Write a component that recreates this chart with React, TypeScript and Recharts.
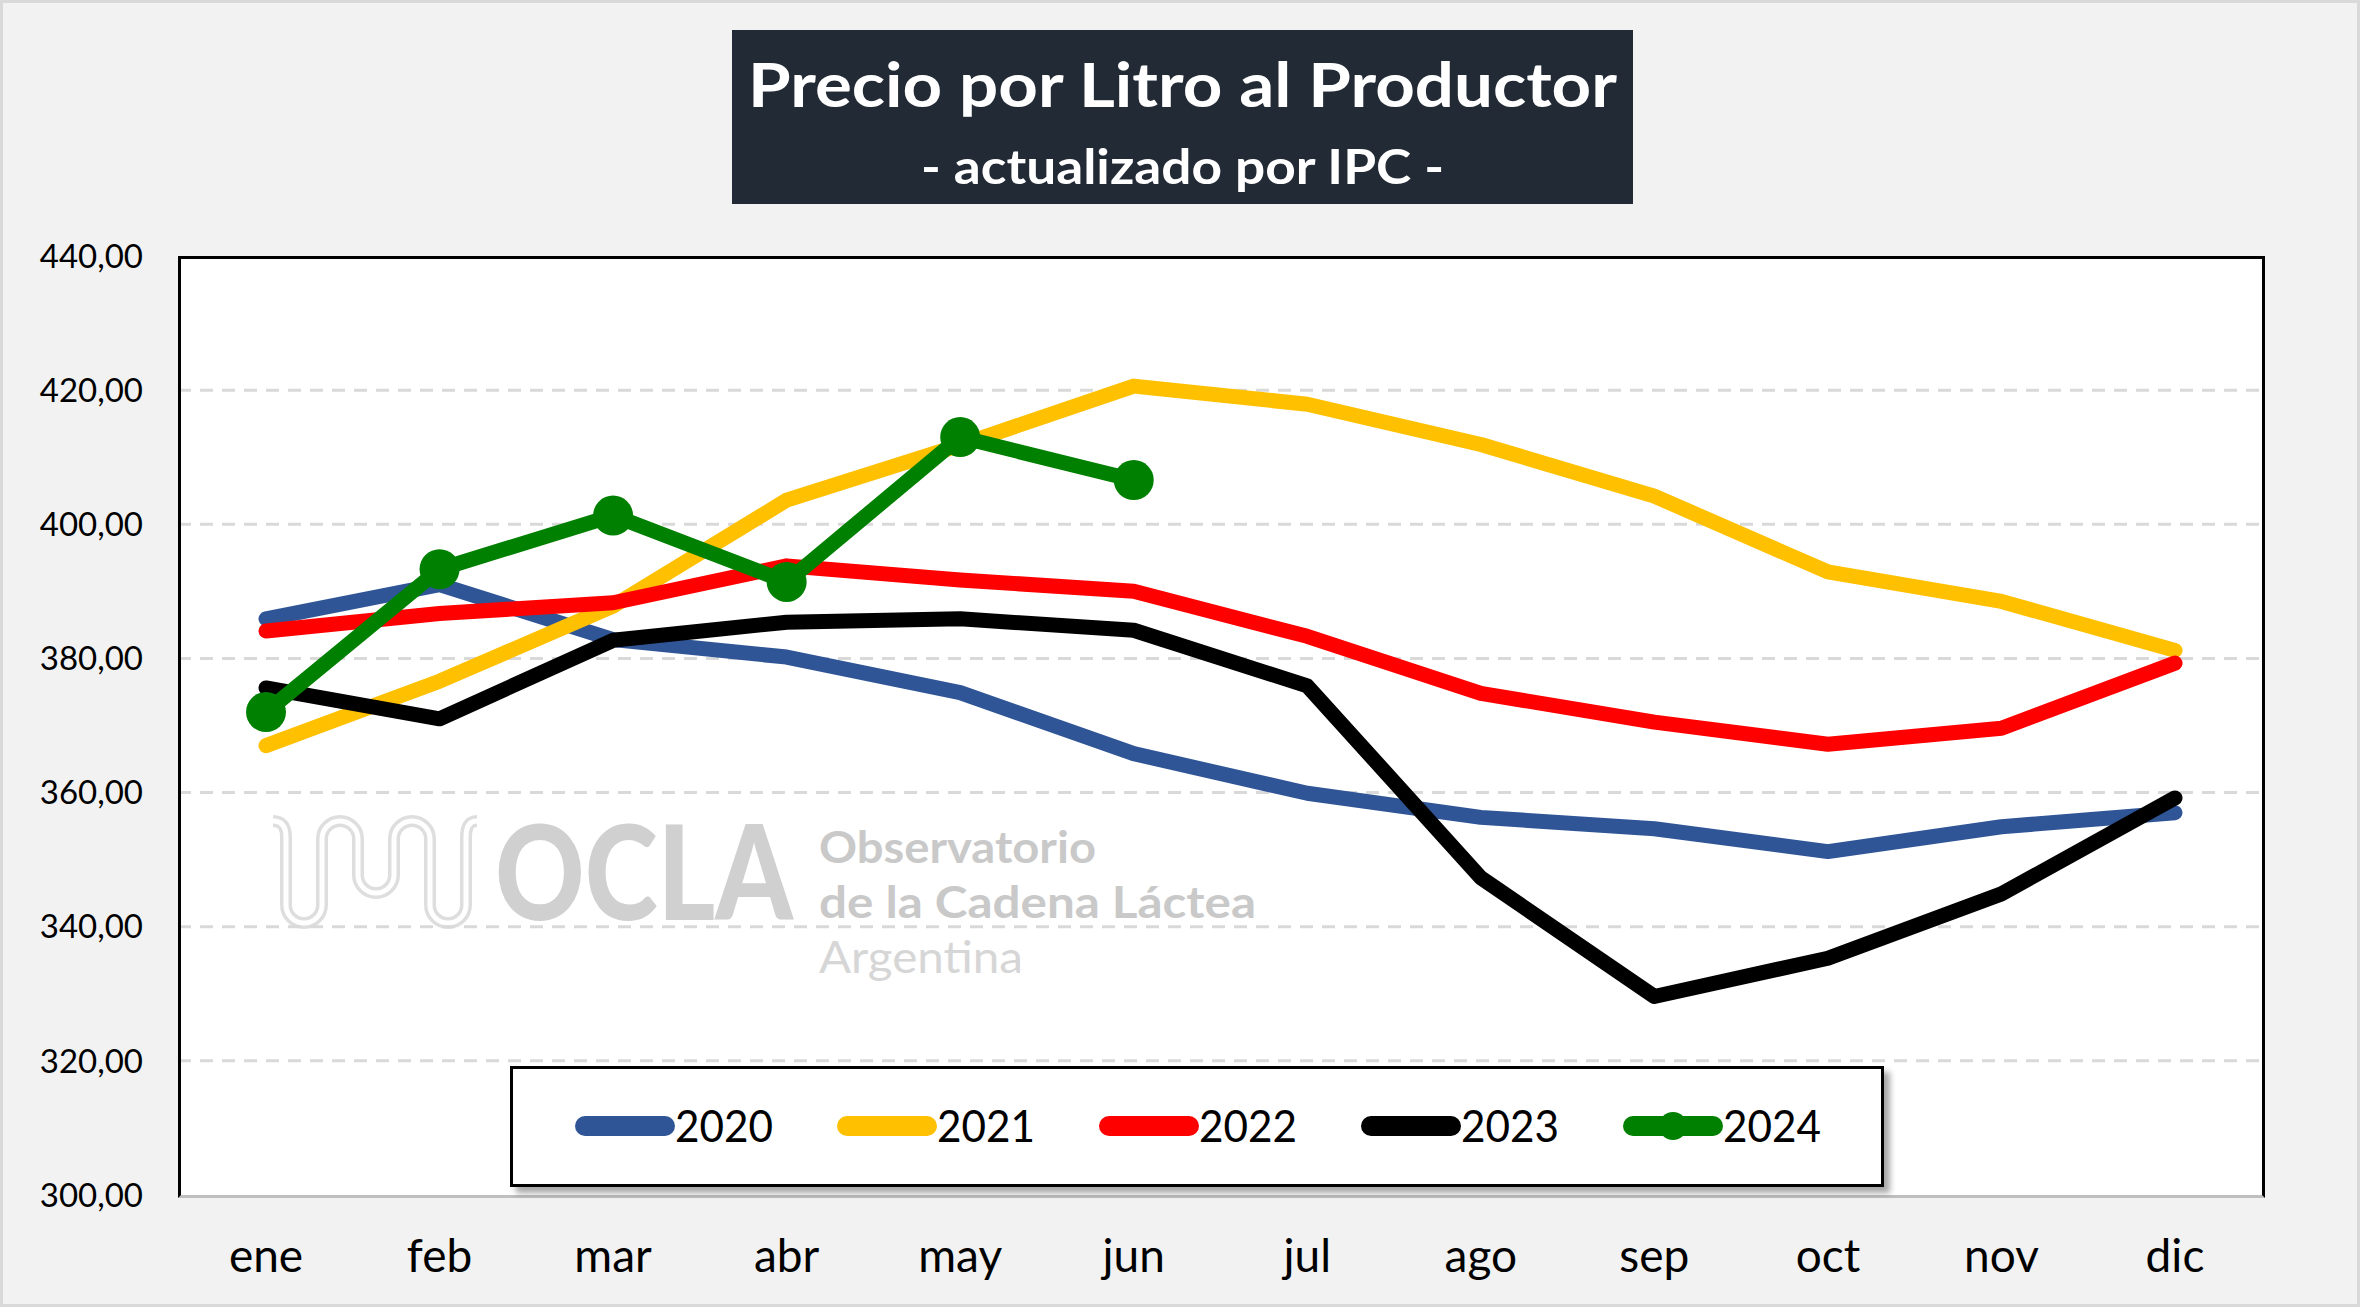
import { LineChart, Line, XAxis, YAxis, CartesianGrid } from "recharts";

const months = ["ene", "feb", "mar", "abr", "may", "jun", "jul", "ago", "sep", "oct", "nov", "dic"];

const y2020 = [385.9, 391.0, 382.8, 380.2, 374.9, 365.8, 359.9, 356.3, 354.6, 351.2, 354.9, 357.0];
const y2021 = [367.0, 376.6, 387.8, 403.6, 411.8, 420.6, 417.9, 411.9, 404.2, 392.9, 388.5, 381.2];
const y2022 = [384.1, 386.7, 388.3, 393.8, 391.7, 390.0, 383.3, 374.8, 370.5, 367.2, 369.6, 379.3];
const y2023 = [375.6, 371.0, 382.7, 385.4, 385.9, 384.2, 375.9, 347.3, 329.6, 335.3, 344.9, 359.2];
const y2024 = [372.0, 393.3, 401.3, 391.4, 413.0, 406.6];

const yTicks = [300, 320, 340, 360, 380, 400, 420, 440];

const series = [
  { key: "y2020", name: "2020", color: "#2f5597", values: y2020, dots: false },
  { key: "y2021", name: "2021", color: "#ffc000", values: y2021, dots: false },
  { key: "y2022", name: "2022", color: "#ff0000", values: y2022, dots: false },
  { key: "y2023", name: "2023", color: "#000000", values: y2023, dots: false },
  { key: "y2024", name: "2024", color: "#008000", values: y2024, dots: true },
];

const data = months.map((m, i) => {
  const row: Record<string, string | number | undefined> = { month: m };
  series.forEach((s) => {
    row[s.key] = s.values[i];
  });
  return row;
});

const FONT = "Lato, 'Noto Sans', sans-serif";
const W = 2360;
const H = 1307;
const PLOT = { left: 178, top: 256, right: 2262, bottom: 1195 };

const fmt = (v: number) => v.toFixed(2).replace(".", ",");

const LOGO_PATH =
  "M270 818 Q283 818 283 834 L283 902 A18 18 0 0 0 319 902 L319 836 A18 18 0 0 1 355 836 L355 872 A18 18 0 0 0 391 872 L391 836 A18 18 0 0 1 427 836 L427 902 A18 18 0 0 0 463 902 L463 834 Q463 818 474 818";

function Watermark() {
  return (
    <svg
      width={W}
      height={H}
      style={{ position: "absolute", left: 0, top: 0, pointerEvents: "none" }}
    >
      <path d={LOGO_PATH} fill="none" stroke="#dedede" strokeWidth={12} />
      <path d={LOGO_PATH} fill="none" stroke="#ffffff" strokeWidth={5} />
      <text x={492} y={917} fontFamily={FONT} fontWeight={900} fontSize={132} fill="#d0d0d0" textLength={298} lengthAdjust="spacingAndGlyphs">
        OCLA
      </text>
      <text x={816} y={860} fontFamily={FONT} fontWeight={700} fontSize={44} fill="#c9c9c9" textLength={277} lengthAdjust="spacingAndGlyphs">
        Observatorio
      </text>
      <text x={816} y={915} fontFamily={FONT} fontWeight={700} fontSize={44} fill="#c9c9c9" textLength={437} lengthAdjust="spacingAndGlyphs">
        de la Cadena Láctea
      </text>
      <text x={816} y={970} fontFamily={FONT} fontWeight={400} fontSize={44} fill="#d6d6d6" textLength={204} lengthAdjust="spacingAndGlyphs">
        Argentina
      </text>
    </svg>
  );
}

function LegendBox() {
  return (
    <div
      style={{
        position: "absolute",
        left: 507,
        top: 1063,
        width: 1374,
        height: 121,
        boxSizing: "border-box",
        background: "#fff",
        border: "3px solid #000",
        boxShadow: "6px 6px 6px rgba(0,0,0,0.35)",
      }}
    >
      <svg width={1368} height={115} style={{ position: "absolute", left: 0, top: 0 }}>
        {series.map((s, i) => {
          const x0 = 62 + i * 262;
          return (
            <g key={s.key}>
              <line x1={x0 + 10} x2={x0 + 90} y1={57} y2={57} stroke={s.color} strokeWidth={20} strokeLinecap="round" />
              {s.dots && <circle cx={x0 + 50} cy={57} r={14} fill={s.color} />}
              <text x={x0 + 100} y={73} fontFamily={FONT} fontSize={44} fill="#000" textLength={98} lengthAdjust="spacingAndGlyphs">
                {s.name}
              </text>
            </g>
          );
        })}
      </svg>
    </div>
  );
}

function Title() {
  return (
    <div
      style={{
        position: "absolute",
        left: 729,
        top: 27,
        width: 901,
        height: 174,
        background: "#222a35",
      }}
    >
      <svg width={901} height={174}>
        <text x={450.5} y={77} textAnchor="middle" fontFamily={FONT} fontWeight={700} fontSize={62} fill="#fff" textLength={869} lengthAdjust="spacingAndGlyphs">
          Precio por Litro al Productor
        </text>
        <text x={450.5} y={154} textAnchor="middle" fontFamily={FONT} fontWeight={700} fontSize={48} fill="#fff" textLength={523} lengthAdjust="spacingAndGlyphs">
          - actualizado por IPC -
        </text>
      </svg>
    </div>
  );
}

export default function App() {
  return (
    <div
      style={{
        position: "relative",
        width: W,
        height: H,
        boxSizing: "border-box",
        background: "#f2f2f2",
        border: "3px solid #d9d9d9",
        overflow: "hidden",
        fontFamily: FONT,
      }}
    >
      <style>{"body{margin:0}"}</style>
      <div
        style={{
          position: "absolute",
          left: PLOT.left,
          top: PLOT.top,
          width: PLOT.right - PLOT.left,
          height: PLOT.bottom - PLOT.top,
          background: "#fff",
        }}
      />
      <Watermark />
      <div style={{ position: "absolute", left: -3, top: -3 }}>
        <LineChart
          width={W}
          height={H}
          data={data}
          margin={{ top: PLOT.top, right: W - PLOT.right, bottom: 0, left: 0 }}
        >
          <CartesianGrid
            vertical={false}
            horizontalValues={yTicks.filter((v) => v > 300 && v < 440)}
            stroke="#d9d9d9"
            strokeWidth={3}
            strokeDasharray="13 9"
          />
          <XAxis
            dataKey="month"
            height={H - PLOT.bottom}
            padding={{ left: 88, right: 87 }}
            axisLine={false}
            tickLine={false}
            tickSize={6}
            tickMargin={38}
            interval={0}
            tick={{ fontFamily: FONT, fontSize: 46, fill: "#000" }}
          />
          <YAxis
            width={PLOT.left}
            domain={[300, 440]}
            ticks={yTicks}
            allowDataOverflow
            axisLine={false}
            tickLine={false}
            tickSize={6}
            tickMargin={29}
            tickFormatter={fmt}
            tick={{ fontFamily: FONT, fontSize: 33, fill: "#000" }}
          />
          {series.map((s) => (
            <Line
              key={s.key}
              type="linear"
              dataKey={s.key}
              name={s.name}
              stroke={s.color}
              strokeWidth={15}
              strokeLinecap="round"
              strokeLinejoin="round"
              dot={s.dots ? { r: 20, fill: s.color, stroke: s.color, strokeWidth: 0 } : false}
              activeDot={false}
              isAnimationActive={false}
            />
          ))}
        </LineChart>
      </div>
      <div
        style={{
          position: "absolute",
          left: PLOT.left - 3,
          top: PLOT.top - 3,
          width: PLOT.right - PLOT.left + 3,
          height: PLOT.bottom - PLOT.top + 3,
          boxSizing: "border-box",
          borderTop: "3px solid #000",
          borderLeft: "3px solid #000",
          borderRight: "3px solid #000",
          borderBottom: "3px solid #bfbfbf",
          pointerEvents: "none",
        }}
      />
      <LegendBox />
      <Title />
    </div>
  );
}
